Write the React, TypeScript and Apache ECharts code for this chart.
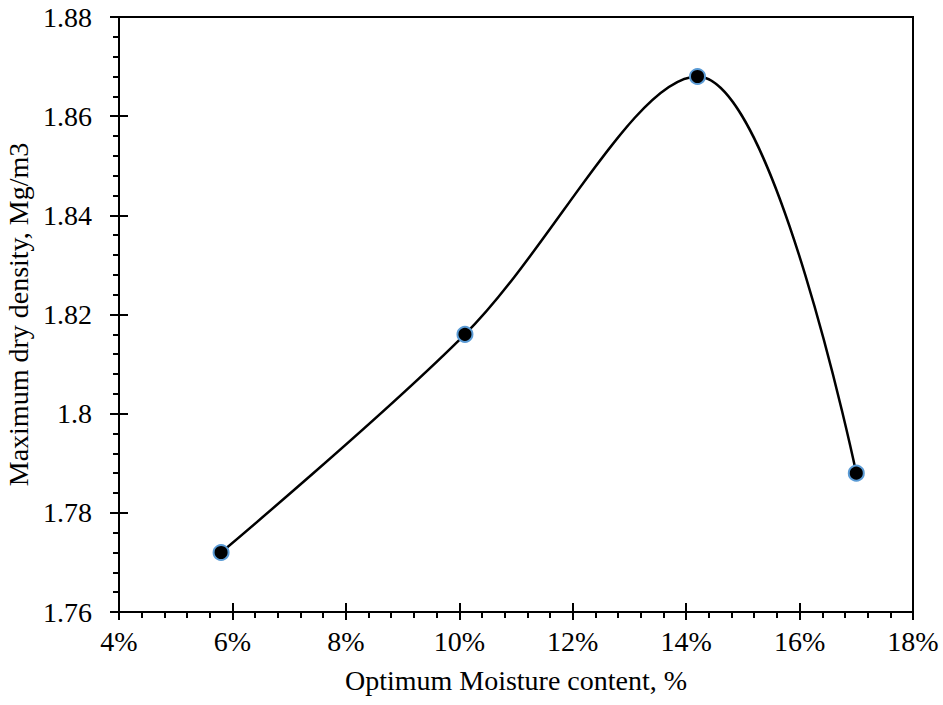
import React, { useEffect, useRef } from "react";
import * as echarts from "echarts";

// Optimum moisture content (%) and the matching maximum dry density (Mg/m3)
const moisture = [5.8, 10.1, 14.2, 17.0];
const dryDensity = [1.772, 1.816, 1.868, 1.788];

const xTicks = { min: 4, max: 18, interval: 2 };
const yTicks = { min: 1.76, max: 1.88, interval: 0.02 };

const FONT = "'Liberation Serif', 'Times New Roman', serif";

export default function App() {
  const ref = useRef<HTMLDivElement>(null);

  useEffect(() => {
    if (!ref.current) return;
    const chart = echarts.init(ref.current, undefined, { renderer: "svg" });

    const points = moisture.map((x, i) => [x, dryDensity[i]]);

    const labelStyle = { color: "#000", fontFamily: FONT, fontSize: 28 };

    chart.setOption({
      animation: false,
      backgroundColor: "#fff",
      textStyle: { fontFamily: FONT },
      grid: {
        left: 119,
        right: 30,
        top: 17,
        bottom: 93,
        containLabel: false,
        outerBoundsMode: "none",
        show: true,
        borderColor: "#000",
        borderWidth: 2,
        backgroundColor: "transparent",
      },
      xAxis: [
        {
          type: "value",
          min: xTicks.min,
          max: xTicks.max,
          interval: xTicks.interval,
          name: "Optimum Moisture content, %",
          nameLocation: "middle",
          nameGap: 54,
          nameTextStyle: labelStyle,
          axisLine: { show: true, lineStyle: { color: "#000", width: 2 } },
          axisTick: { show: true, inside: false, length: 8, lineStyle: { color: "#000", width: 2 } },
          minorTick: { show: true, splitNumber: 5, length: 6, lineStyle: { color: "#000", width: 2 } },
          splitLine: { show: false },
          axisLabel: {
            ...labelStyle,
            margin: 15,
            formatter: (v: number) => `${v}%`,
          },
        },
        {
          // inward half of the crossing major ticks
          type: "value",
          position: "bottom",
          min: xTicks.min,
          max: xTicks.max,
          interval: xTicks.interval,
          axisLine: { show: false },
          axisTick: { show: true, inside: true, length: 9, lineStyle: { color: "#000", width: 2 } },
          axisLabel: { show: false },
          splitLine: { show: false },
        },
      ],
      yAxis: [
        {
          type: "value",
          min: yTicks.min,
          max: yTicks.max,
          interval: yTicks.interval,
          name: "Maximum dry density, Mg/m3",
          nameLocation: "middle",
          nameGap: 76,
          nameTextStyle: labelStyle,
          axisLine: { show: true, lineStyle: { color: "#000", width: 2 } },
          axisTick: { show: true, inside: false, length: 9, lineStyle: { color: "#000", width: 2 } },
          minorTick: { show: true, splitNumber: 5, length: 6, lineStyle: { color: "#000", width: 2 } },
          splitLine: { show: false },
          axisLabel: {
            ...labelStyle,
            margin: 27,
            formatter: (v: number) => String(parseFloat(v.toFixed(2))),
          },
        },
        {
          type: "value",
          position: "left",
          min: yTicks.min,
          max: yTicks.max,
          interval: yTicks.interval,
          axisLine: { show: false },
          axisTick: { show: true, inside: true, length: 9, lineStyle: { color: "#000", width: 2 } },
          axisLabel: { show: false },
          splitLine: { show: false },
        },
      ],
      series: [
        {
          type: "line",
          data: points,
          smooth: 0.35,
          symbol: "circle",
          symbolSize: 15,
          showSymbol: true,
          lineStyle: { color: "#000", width: 2.5 },
          itemStyle: { color: "#000", borderColor: "#5B9BD5", borderWidth: 2 },
          z: 3,
        },
      ],
    });

    return () => chart.dispose();
  }, []);

  return (
    <div
      ref={ref}
      style={{ position: "absolute", left: 0, top: 0, width: 943, height: 705 }}
    />
  );
}
